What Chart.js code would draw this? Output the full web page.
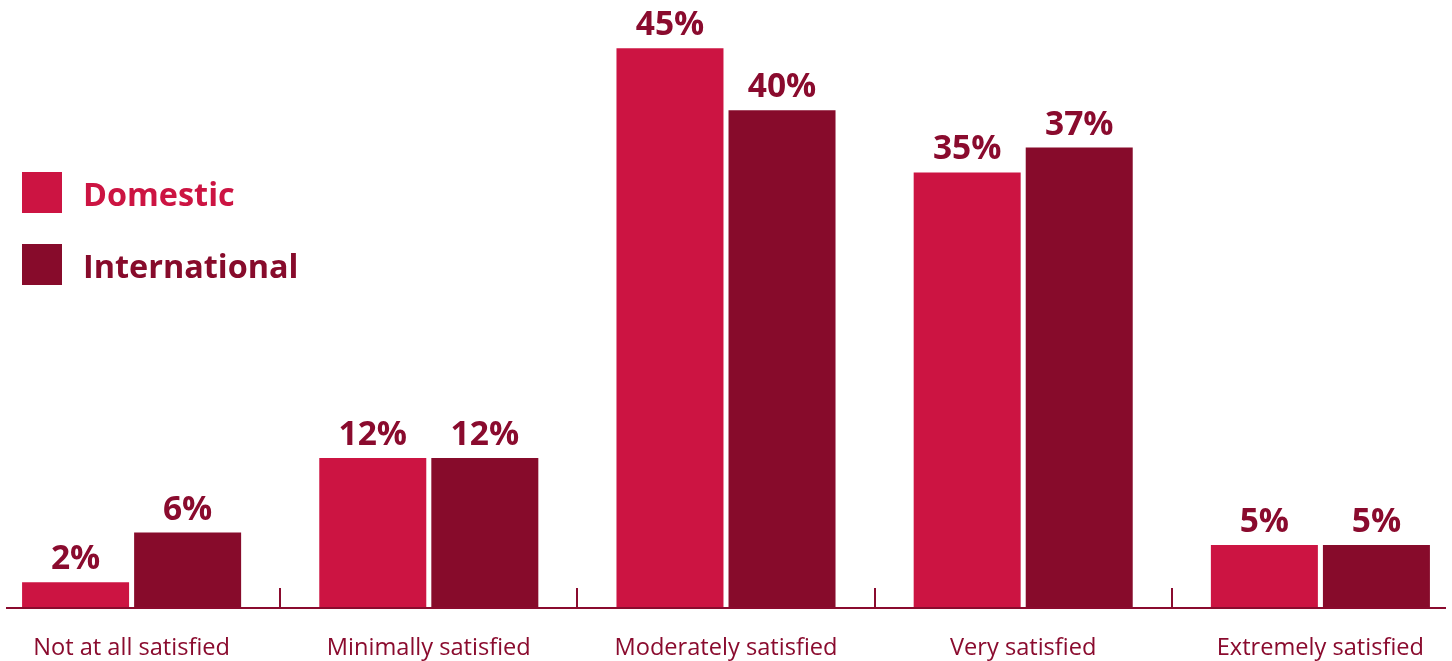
<!DOCTYPE html>
<html>
<head>
<meta charset="utf-8">
<title>Satisfaction: Domestic vs International</title>
<script src="https://cdn.jsdelivr.net/npm/chart.js@4"></script>
<style>
  html, body { margin: 0; padding: 0; background: #fff; }
  #wrap { position: relative; width: 1452px; height: 661px; overflow: hidden; }
  #box { position: absolute; left: -17px; top: 0; width: 1486px; height: 661px; }
  #legend { position: absolute; left: 22px; top: 172px; font-family: "Open Sans", sans-serif; font-weight: 700; font-size: 32.4px; }
  .item { display: flex; align-items: center; height: 41px; margin-bottom: 31px; }
  .sw { width: 40px; height: 41px; margin-right: 21px; }
</style>
</head>
<body>
<div id="wrap">
  <div id="box"><canvas id="chart"></canvas></div>
  <div id="legend"></div>
</div>
<script>
// values
const categories = ['Not at all satisfied', 'Minimally satisfied', 'Moderately satisfied', 'Very satisfied', 'Extremely satisfied'];
const domestic = [2, 12, 45, 35, 5];
const international = [6, 12, 40, 37, 5];
const seriesNames = ['Domestic', 'International'];

const RED = '#cc1442';
const MAROON = '#870b2b';
const TEXT = '#8a0b2e';

// value labels above each bar
const valueLabels = {
  id: 'valueLabels',
  afterDatasetsDraw(chart) {
    const ctx = chart.ctx;
    ctx.save();
    ctx.font = 'bold 33.5px "Open Sans", sans-serif';
    ctx.fillStyle = TEXT;
    ctx.textAlign = 'center';
    ctx.textBaseline = 'alphabetic';
    chart.data.datasets.forEach((ds, i) => {
      chart.getDatasetMeta(i).data.forEach((bar, j) => {
        ctx.fillText(ds.data[j] + '%', bar.x, bar.y - 13);
      });
    });
    ctx.restore();
  }
};

// baseline with small ticks between the categories
const baseAxis = {
  id: 'baseAxis',
  afterDatasetsDraw(chart) {
    const { ctx, chartArea } = chart;
    const x = chart.scales.x;
    const y = chartArea.bottom + 1;
    ctx.save();
    ctx.strokeStyle = TEXT;
    ctx.lineWidth = 2;
    ctx.beginPath();
    ctx.moveTo(chartArea.left + 23, y);
    ctx.lineTo(chartArea.right - 23, y);
    ctx.stroke();
    for (let i = 0; i < categories.length - 1; i++) {
      const px = Math.round((x.getPixelForValue(i) + x.getPixelForValue(i + 1)) / 2);
      ctx.beginPath();
      ctx.moveTo(px, y - 20);
      ctx.lineTo(px, y);
      ctx.stroke();
    }
    ctx.restore();
  }
};

const ctx = document.getElementById('chart').getContext('2d');
const chart = new Chart(ctx, {
  type: 'bar',
  data: {
    labels: categories,
    datasets: [
      { label: seriesNames[0], data: domestic, backgroundColor: RED },
      { label: seriesNames[1], data: international, backgroundColor: MAROON }
    ]
  },
  options: {
    responsive: true,
    maintainAspectRatio: false,
    animation: false,
    layout: { padding: { top: 11, left: 0, right: 0, bottom: 0 } },
    datasets: { bar: { categoryPercentage: 0.754, barPercentage: 0.955 } },
    plugins: { legend: { display: false }, tooltip: { enabled: false } },
    scales: {
      x: {
        grid: { display: false, drawTicks: false },
        border: { display: false },
        ticks: {
          color: TEXT,
          font: { family: '"Open Sans", sans-serif', size: 23.6 },
          padding: 27,
          maxRotation: 0
        },
        afterFit(s) { s.height = 54; }
      },
      y: {
        display: false,
        min: 0,
        max: 48
      }
    }
  },
  plugins: [valueLabels, baseAxis]
});

// legend built from the dataset names and colours
const legend = document.getElementById('legend');
chart.data.datasets.forEach(ds => {
  const row = document.createElement('div');
  row.className = 'item';
  row.style.color = ds.backgroundColor;
  const sw = document.createElement('div');
  sw.className = 'sw';
  sw.style.background = ds.backgroundColor;
  const t = document.createElement('span');
  t.textContent = ds.label;
  row.appendChild(sw);
  row.appendChild(t);
  legend.appendChild(row);
});
</script>
</body>
</html>
